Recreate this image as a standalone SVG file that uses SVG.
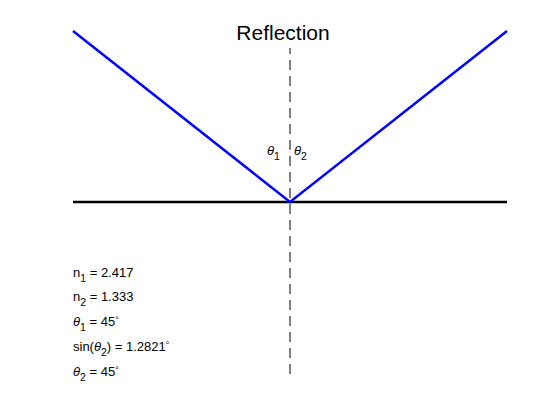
<svg xmlns="http://www.w3.org/2000/svg" width="560" height="420" viewBox="0 0 560 420">
<style>
text{font-family:"Liberation Sans",Arial,sans-serif;fill:#000}
.lbl{font-size:13px}
.sub{font-size:10.5px}
.th{font-style:italic}
.deg{font-size:9px}
</style>
<rect width="560" height="420" fill="#fff"/>
<g id="connectors">
<line id="dash" x1="290" y1="48" x2="290" y2="374" stroke="#808080" stroke-width="2" stroke-dasharray="10 6" stroke-dashoffset="4"/>
<line id="interface" x1="73" y1="202" x2="507" y2="202" stroke="#000" stroke-width="2.5"/>
<polyline id="ray" points="73,31 290,202 507,31" fill="none" stroke="#0000ff" stroke-width="2.5"/>
</g>
<g id="title"><text x="283" y="40" font-size="21" text-anchor="middle">Reflection</text></g>
<g id="angles">
<text class="lbl" x="267" y="155"><tspan class="th">θ</tspan><tspan class="sub" dy="5">1</tspan></text>
<text class="lbl" x="294" y="155"><tspan class="th">θ</tspan><tspan class="sub" dy="5">2</tspan></text>
</g>
<g id="info">
<text class="lbl" x="73" y="277">n<tspan class="sub" dy="5">1</tspan><tspan dy="-5"> = 2.417</tspan></text>
<text class="lbl" x="73" y="301">n<tspan class="sub" dy="5">2</tspan><tspan dy="-5"> = 1.333</tspan></text>
<text class="lbl" x="73" y="326"><tspan class="th">θ</tspan><tspan class="sub" dy="5">1</tspan><tspan dy="-5"> = 45</tspan><tspan class="deg" dy="-3">°</tspan></text>
<text class="lbl" x="73" y="351">sin(<tspan class="th">θ</tspan><tspan class="sub" dy="5">2</tspan><tspan dy="-5">) = 1.2821</tspan><tspan class="deg" dy="-3">°</tspan></text>
<text class="lbl" x="73" y="376"><tspan class="th">θ</tspan><tspan class="sub" dy="5">2</tspan><tspan dy="-5"> = 45</tspan><tspan class="deg" dy="-3">°</tspan></text>
</g>
</svg>
